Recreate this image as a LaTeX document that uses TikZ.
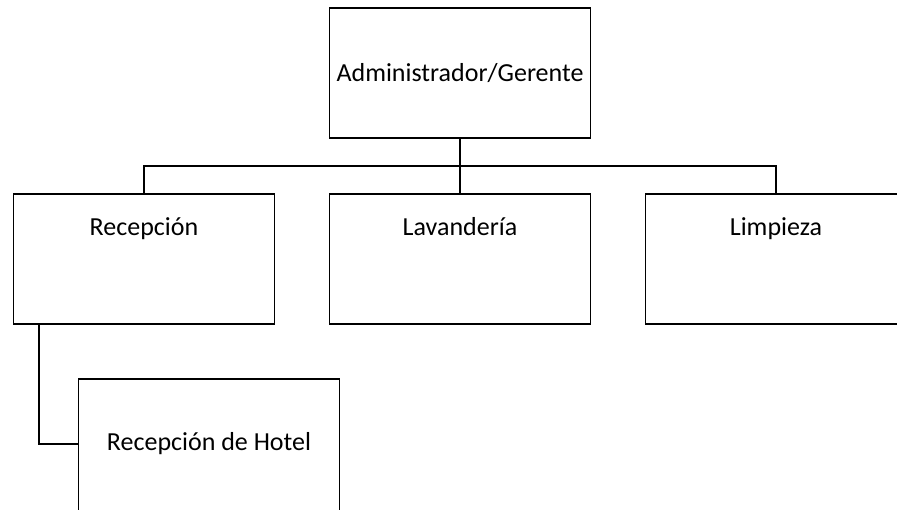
\documentclass[tikz,border=0pt]{standalone}
\usepackage{fontspec}
\setmainfont{Carlito}
\usetikzlibrary{positioning,calc}

\tikzset{
  unitbox/.style={draw, line width=1.8pt, minimum width=261pt, minimum height=130pt, inner sep=0pt},
  boxtext/.style={inner sep=0pt, font=\fontsize{26}{30}\selectfont},
  link/.style={line width=1.8pt}
}

\begin{document}
\begin{tikzpicture}[x=1pt,y=1pt,yscale=-1,xscale=1]
\useasboundingbox (0,0) rectangle (897,509);

%Shape: Rectangle [top]
\node [unitbox] (gerente) at (460,73) {};
\node [boxtext] (gerentetxt) at (gerente.center) {Administrador/Gerente};

%Shape: Rectangle [second row]
\node [unitbox] (recep) at (144,259) {};
\node [unitbox] (lavan) at (460,259) {};
\node [unitbox] (limp) at (776,259) {};
\node [boxtext, below=24pt of recep.north] (receptxt) {Recepción};
\node [boxtext, below=24pt of lavan.north] (lavantxt) {Lavandería};
\node [boxtext, below=24pt of limp.north] (limptxt) {Limpieza};

%Shape: Rectangle [third row], runs past the bottom edge
\node [unitbox, minimum height=142pt] (hotel) at (209,450) {};
\node [boxtext] (hoteltxt) at (209,444) {Recepción de Hotel};

%Straight Lines
\coordinate (bus) at ($(gerente.south)!0.5!(lavan.north)$);
\draw [link] (gerente.south) -- (lavan.north);
\draw [link] (recep.north) |- (bus) -| (limp.north);
\coordinate (recepout) at ([xshift=-105pt]recep.south);
\draw [link] (recepout) |- (hoteltxt.west -| hotel.west);

\end{tikzpicture}
\end{document}
